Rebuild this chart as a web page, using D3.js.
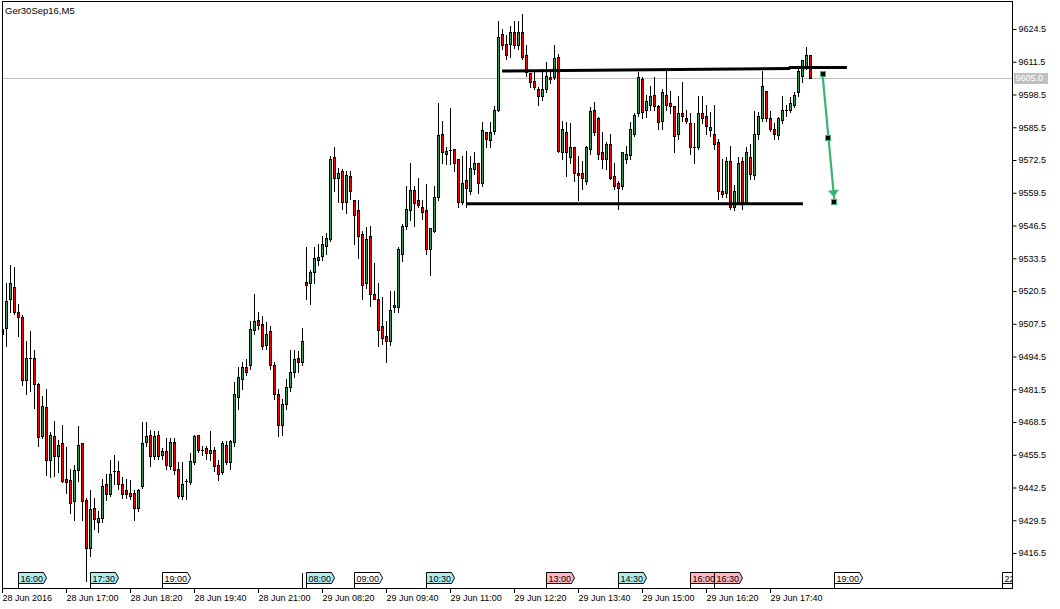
<!DOCTYPE html>
<html><head><meta charset="utf-8">
<script src="https://cdn.jsdelivr.net/npm/d3@7"></script>
<style>
html,body{margin:0;padding:0;background:#fff;}
svg{display:block;font-family:"Liberation Sans",Arial,sans-serif;}
</style></head><body>
<svg id="c" width="1060" height="609"></svg>
<script>
// ---- DATA (Ger30Sep16, M5; bar 0 = 28 Jun 15:40) ----
const opens=[9505.5,9506.0,9517.5,9522.0,9512.0,9510.0,9485.0,9494.0,9494.0,9483.5,9463.0,9474.5,9453.5,9463.0,9455.0,9460.0,9446.0,9445.5,9437.0,9449.5,9460.0,9437.5,9418.5,9434.5,9429.0,9430.5,9444.0,9440.0,9449.0,9449.0,9444.0,9441.5,9440.5,9440.5,9434.5,9443.0,9460.5,9463.5,9455.0,9463.5,9455.5,9457.0,9451.0,9460.5,9450.0,9439.0,9445.0,9444.5,9452.5,9463.5,9457.5,9458.0,9456.0,9457.5,9451.5,9448.5,9459.5,9452.5,9460.5,9478.5,9485.5,9490.5,9491.0,9505.0,9509.0,9507.5,9499.0,9504.5,9491.0,9479.5,9467.5,9475.5,9482.5,9488.5,9494.0,9492.5,9524.0,9523.5,9528.0,9533.0,9534.5,9538.5,9541.0,9573.5,9565.5,9568.0,9556.0,9566.0,9556.5,9552.5,9543.0,9523.5,9542.5,9519.5,9517.5,9506.5,9502.5,9500.5,9514.0,9514.0,9535.0,9546.5,9552.5,9560.5,9556.5,9554.0,9552.5,9537.0,9544.5,9558.0,9583.0,9575.0,9576.5,9577.0,9573.0,9556.0,9564.5,9560.0,9569.0,9571.5,9563.5,9583.5,9580.5,9584.0,9592.5,9622.5,9618.5,9618.5,9623.5,9618.0,9623.5,9614.0,9607.0,9604.0,9600.5,9598.0,9600.5,9605.5,9605.5,9613.5,9575.5,9583.5,9573.5,9577.5,9567.5,9567.5,9564.0,9577.0,9592.5,9589.0,9575.5,9573.0,9579.0,9566.0,9563.5,9562.0,9573.0,9574.5,9583.0,9591.0,9604.5,9592.5,9594.5,9598.5,9594.0,9588.0,9598.5,9595.0,9594.0,9583.0,9591.0,9589.0,9587.0,9577.5,9577.5,9591.0,9590.0,9584.5,9583.0,9579.5,9560.0,9559.5,9572.0,9554.0,9556.0,9572.0,9556.0,9573.5,9566.5,9583.0,9589.0,9600.0,9589.0,9585.0,9582.5,9588.5,9592.5,9592.5,9594.5,9599.5,9606.0,9610.0,9614.0];
const highs=[9507.0,9523.5,9531.0,9530.0,9515.5,9511.0,9500.5,9504.5,9497.0,9484.0,9479.0,9481.5,9464.5,9469.0,9461.5,9467.5,9458.5,9450.0,9451.5,9467.0,9460.0,9438.5,9441.5,9438.5,9433.0,9446.0,9448.0,9453.5,9455.5,9453.0,9446.5,9446.0,9445.5,9441.5,9442.0,9468.5,9468.5,9465.5,9465.0,9465.0,9458.0,9462.0,9462.0,9462.0,9452.5,9452.5,9446.0,9456.0,9463.5,9463.5,9459.0,9459.0,9465.0,9458.5,9453.5,9461.0,9461.0,9461.5,9484.5,9490.5,9492.5,9493.5,9508.5,9519.5,9512.0,9510.5,9508.0,9506.5,9492.5,9481.5,9477.5,9485.5,9497.0,9497.0,9496.5,9506.0,9538.0,9529.0,9538.0,9539.0,9542.5,9543.5,9574.0,9577.5,9569.5,9569.0,9568.0,9568.0,9556.5,9556.5,9544.5,9546.0,9546.5,9531.5,9523.5,9518.0,9508.5,9520.5,9520.5,9538.0,9547.0,9562.0,9571.5,9562.0,9565.5,9556.5,9563.0,9545.5,9562.0,9595.0,9588.0,9577.5,9593.0,9577.0,9573.0,9574.0,9576.0,9574.0,9575.5,9571.5,9587.5,9583.5,9587.5,9594.0,9627.5,9624.5,9622.0,9625.5,9627.5,9627.5,9630.5,9618.0,9607.0,9608.0,9601.5,9608.5,9611.5,9608.5,9618.0,9614.5,9588.0,9587.5,9587.0,9577.5,9574.0,9572.0,9578.0,9593.5,9595.5,9589.5,9583.5,9579.5,9583.0,9571.5,9564.0,9575.5,9578.0,9587.5,9591.0,9607.5,9605.5,9598.5,9602.0,9605.5,9594.5,9600.5,9608.0,9600.0,9594.0,9598.0,9603.5,9592.5,9591.0,9587.0,9598.0,9598.0,9594.5,9591.5,9594.5,9581.0,9573.0,9573.5,9578.0,9562.5,9573.5,9573.5,9577.5,9579.0,9592.0,9591.5,9608.0,9600.0,9592.0,9587.0,9589.5,9598.0,9594.5,9597.5,9599.5,9609.5,9612.0,9617.5,9614.0];
const lows=[9502.0,9498.5,9512.0,9511.5,9502.5,9483.0,9479.5,9481.0,9474.0,9459.0,9462.0,9447.5,9446.5,9447.0,9448.5,9444.5,9440.5,9432.5,9429.5,9445.0,9429.5,9405.5,9415.5,9426.0,9425.0,9429.0,9437.5,9439.0,9444.0,9442.0,9438.5,9438.5,9438.0,9429.5,9433.0,9442.5,9459.0,9451.0,9454.0,9454.0,9454.0,9450.0,9450.0,9448.0,9438.5,9438.0,9438.0,9444.0,9452.0,9456.5,9455.5,9454.0,9453.5,9449.0,9445.5,9448.0,9452.0,9450.0,9459.0,9473.5,9481.5,9487.0,9489.5,9503.5,9505.5,9497.5,9497.5,9489.5,9477.5,9463.0,9463.5,9473.5,9481.0,9486.5,9488.5,9491.0,9517.5,9515.5,9523.5,9531.0,9533.0,9535.0,9540.5,9560.0,9556.0,9553.0,9551.5,9557.0,9539.0,9533.5,9517.5,9521.5,9514.5,9517.5,9498.5,9499.5,9492.5,9499.0,9512.0,9512.0,9532.5,9545.0,9548.5,9546.5,9554.0,9549.0,9535.0,9527.0,9544.0,9556.5,9571.5,9571.0,9571.0,9568.0,9554.0,9555.0,9554.0,9559.0,9567.0,9559.5,9562.0,9577.5,9577.5,9583.0,9592.0,9616.5,9612.5,9613.5,9617.0,9616.5,9612.5,9606.0,9601.5,9600.5,9594.5,9596.5,9599.5,9603.0,9604.5,9575.5,9573.0,9566.0,9571.5,9564.0,9556.5,9561.0,9563.0,9575.0,9582.5,9573.0,9569.5,9569.0,9565.0,9561.0,9553.0,9561.0,9571.5,9573.0,9582.0,9590.0,9589.0,9589.5,9592.5,9592.5,9585.0,9585.0,9592.5,9591.0,9575.5,9581.0,9588.0,9587.0,9575.0,9571.5,9577.0,9587.0,9583.0,9582.0,9577.0,9557.0,9558.0,9558.0,9553.0,9552.5,9555.0,9553.0,9555.0,9565.0,9565.0,9581.0,9588.0,9588.0,9584.0,9581.0,9581.0,9587.0,9590.0,9591.5,9593.5,9598.0,9603.5,9608.5,9605.5];
const closes=[9503.5,9516.5,9523.5,9512.0,9510.0,9485.0,9494.0,9494.0,9483.5,9462.5,9475.0,9453.5,9463.5,9455.0,9459.5,9445.0,9444.5,9436.5,9449.5,9459.5,9437.0,9418.5,9434.0,9430.0,9430.5,9443.0,9440.0,9448.0,9449.0,9444.0,9440.0,9440.0,9439.0,9434.5,9441.5,9460.0,9463.0,9455.0,9463.0,9455.0,9457.0,9451.5,9460.5,9449.5,9439.0,9444.0,9445.0,9453.0,9463.0,9457.5,9457.5,9456.0,9457.5,9451.0,9448.0,9460.0,9452.5,9461.0,9479.5,9486.5,9490.5,9488.5,9505.5,9508.5,9507.0,9498.5,9503.5,9491.0,9479.5,9467.5,9475.5,9482.5,9488.5,9493.5,9492.5,9500.5,9523.0,9528.0,9533.5,9534.0,9539.0,9541.5,9573.0,9565.5,9567.5,9556.0,9566.5,9560.0,9550.5,9542.5,9523.0,9541.0,9519.5,9517.5,9505.0,9502.0,9500.5,9513.0,9515.0,9537.0,9546.5,9553.0,9560.5,9555.5,9554.5,9552.0,9537.0,9545.5,9558.0,9582.5,9575.5,9576.0,9576.5,9571.5,9556.0,9563.5,9561.5,9569.5,9571.5,9563.5,9584.5,9581.0,9583.5,9592.5,9621.5,9618.0,9614.0,9623.5,9618.0,9623.5,9613.5,9607.5,9603.5,9601.5,9598.0,9600.5,9606.0,9604.5,9613.0,9576.0,9585.0,9575.5,9577.5,9567.5,9566.5,9565.5,9577.5,9592.0,9583.5,9575.0,9573.0,9579.0,9565.5,9562.0,9561.5,9575.5,9575.0,9585.0,9590.5,9605.5,9591.5,9596.0,9598.0,9594.0,9587.5,9599.5,9594.5,9594.0,9582.0,9591.0,9590.0,9588.0,9577.5,9577.5,9591.0,9589.0,9586.0,9585.5,9579.0,9560.0,9559.0,9572.0,9554.0,9560.0,9571.5,9556.0,9575.5,9567.0,9583.0,9590.0,9602.0,9589.0,9585.0,9583.0,9589.0,9592.5,9592.5,9595.0,9598.5,9608.0,9612.0,9614.0,9605.0];

const priceTicks=[9624.5,9611.5,9598.5,9585.5,9572.5,9559.5,9546.5,9533.5,9520.5,9507.5,9494.5,9481.5,9468.5,9455.5,9442.5,9429.5,9416.5];
const timeLabels=["28 Jun 2016","28 Jun 17:00","28 Jun 18:20","28 Jun 19:40","28 Jun 21:00","29 Jun 08:20","29 Jun 09:40","29 Jun 11:00","29 Jun 12:20","29 Jun 13:40","29 Jun 15:00","29 Jun 16:20","29 Jun 17:40"];
const timeLabelBars=[0,16,32,48,64,80,96,112,128,144,160,176,192];
const eventLabels=["16:00","17:30","19:00","","08:00","09:00","10:30","13:00","14:30","16:00","16:30","19:00","22:30"];
const eventBars=[4,22,40,75,76,88,106,136,154,172,178,208,250];
const eventColors=["#afeeee","#afeeee","#ffffff","#ffffff","#afeeee","#ffffff","#afeeee","#ffb6c1","#afeeee","#ffb6c1","#ffb6c1","#ffffff","#ffffff"];
const currentPrice=9605.0;
const resistanceA=[[124.9,9607.8],[196.9,9608.8]];
const resistanceB=[[196.6,9609.2],[211.1,9609.2]];
const supportLine=[[115.9,9555.1],[200.1,9555.1]];
const arrowPoints=[[205,9606.7],[206.5,9581.3],[208,9555.8]];
const symbolTitle="Ger30Sep16,M5";

// ---- DRAW ----
const svg=d3.select("#c");
const L=2.5,R=1012.5,T=1.5,B=588.5;
const x=d3.scaleLinear().domain([0,250]).range([2.5,1002.5]);
const y=d3.scaleLinear().domain([9416.5,9624.5]).range([553,29]);
const GREEN="#2f9e5e", RED="#ff0000";

svg.append("defs").append("clipPath").attr("id","plot")
  .append("rect").attr("x",L).attr("y",T).attr("width",R-L).attr("height",B-T);

const plot=svg.append("g").attr("clip-path","url(#plot)");

// current price line
plot.append("line").attr("x1",L).attr("x2",R)
  .attr("y1",Math.round(y(currentPrice))+0.5).attr("y2",Math.round(y(currentPrice))+0.5)
  .attr("stroke","#c0c0c0").attr("stroke-width",1).attr("shape-rendering","crispEdges");

// candles
const bars=d3.range(opens.length).map(i=>({i,o:opens[i],h:highs[i],l:lows[i],c:closes[i]}));
const cg=plot.append("g").attr("shape-rendering","crispEdges");
const g=cg.selectAll("g").data(bars).join("g");
g.append("line")
  .attr("x1",d=>x(d.i)).attr("x2",d=>x(d.i))
  .attr("y1",d=>Math.round(y(d.h))).attr("y2",d=>Math.round(y(d.l))+1)
  .attr("stroke","#000").attr("stroke-width",1);
g.filter(d=>d.o!==d.c).append("rect")
  .attr("x",d=>x(d.i)-1)
  .attr("y",d=>Math.round(y(Math.max(d.o,d.c)))+0.5)
  .attr("width",2)
  .attr("height",d=>Math.max(1,Math.round(y(Math.min(d.o,d.c)))-Math.round(y(Math.max(d.o,d.c)))))
  .attr("fill",d=>d.c>d.o?GREEN:RED).attr("stroke","#000").attr("stroke-width",1);
g.filter(d=>d.o===d.c).append("line")
  .attr("x1",d=>x(d.i)-1.5).attr("x2",d=>x(d.i)+1.5)
  .attr("y1",d=>Math.round(y(d.o))+0.5).attr("y2",d=>Math.round(y(d.o))+0.5)
  .attr("stroke","#000").attr("stroke-width",1);

// trend lines
const lineGen=d3.line().x(d=>x(d[0])).y(d=>y(d[1]));
[resistanceA,resistanceB,supportLine].forEach(seg=>{
  plot.append("path").attr("d",lineGen(seg)).attr("stroke","#000").attr("stroke-width",3).attr("fill","none");
});

// arrow
const AG="#3cb371";
const p0=arrowPoints[0], p2=arrowPoints[2];
plot.append("path").attr("d",lineGen([p0,p2])).attr("stroke",AG).attr("stroke-width",2.2).attr("fill","none");
{
  const x0=x(p0[0]),y0=y(p0[1]),x1=x(p2[0]),y1=y(p2[1]);
  const len=Math.hypot(x1-x0,y1-y0), ux=(x1-x0)/len, uy=(y1-y0)/len;
  const tipX=x1-ux*5, tipY=y1-uy*5, bx=x1-ux*12, by=y1-uy*12;
  const px=-uy*5.5, py=ux*5.5;
  plot.append("path").attr("d",`M${tipX},${tipY}L${bx+px},${by+py}L${bx-px},${by-py}Z`).attr("fill",AG);
}
plot.selectAll("rect.pt").data(arrowPoints).join("rect").attr("class","pt")
  .attr("x",d=>Math.round(x(d[0]))-2.5).attr("y",d=>Math.round(y(d[1]))-2.5)
  .attr("width",5).attr("height",5).attr("fill","#000").attr("stroke",AG).attr("stroke-width",1)
  .attr("shape-rendering","crispEdges");

// event tags
const tg=plot.append("g").attr("font-size","9px");
eventBars.forEach((b,k)=>{
  const x0=Math.floor(x(b))+0.5;
  const lab=eventLabels[k];
  tg.append("line").attr("x1",x0).attr("x2",x0).attr("y1",572.5).attr("y2",588)
    .attr("stroke","#000").attr("shape-rendering","crispEdges");
  if(!lab) return;
  const w=22;
  tg.append("path")
    .attr("d",`M${x0},572.5H${x0+w+3}L${x0+w+6},578L${x0+w+3},583.5H${x0}Z`)
    .attr("fill",eventColors[k]).attr("stroke","#000").attr("stroke-width",1);
  tg.append("text").attr("x",x0+2).attr("y",581.5).attr("fill","#000").text(lab);
});

// frame
svg.append("rect").attr("x",L).attr("y",T).attr("width",R-L).attr("height",B-T)
  .attr("fill","none").attr("stroke","#000").attr("stroke-width",1).attr("shape-rendering","crispEdges");

// right axis
const ya=svg.append("g").attr("transform",`translate(${R},0)`)
  .call(d3.axisRight(y).tickValues(priceTicks).tickSize(4).tickPadding(2).tickFormat(d3.format(".1f")));
ya.select(".domain").remove();
ya.selectAll("text").attr("font-family","Liberation Sans, Arial, sans-serif").attr("font-size","9px").attr("fill","#000");
ya.selectAll("line").attr("stroke","#000");

// price label
const cy=Math.round(y(currentPrice));
svg.append("rect").attr("x",1014).attr("y",cy-5).attr("width",34).attr("height",11).attr("fill","#c0c0c0");
svg.append("text").attr("x",1015.5).attr("y",cy+0.5).attr("dy","0.32em").attr("font-size","9px").attr("fill","#fff").text(d3.format(".1f")(currentPrice));

// bottom axis
const xa=svg.append("g").attr("font-size","9px");
timeLabelBars.forEach((b,k)=>{
  const xx=Math.floor(x(b))+0.5;
  xa.append("line").attr("x1",xx).attr("x2",xx).attr("y1",B).attr("y2",B+4.5).attr("stroke","#000").attr("shape-rendering","crispEdges");
  xa.append("text").attr("x",xx).attr("y",601).attr("fill","#000").text(timeLabels[k]);
});

// title
svg.append("text").attr("x",5).attr("y",13.5).attr("font-size","9.5px").attr("fill","#000").text(symbolTitle);
</script>
</body></html>
